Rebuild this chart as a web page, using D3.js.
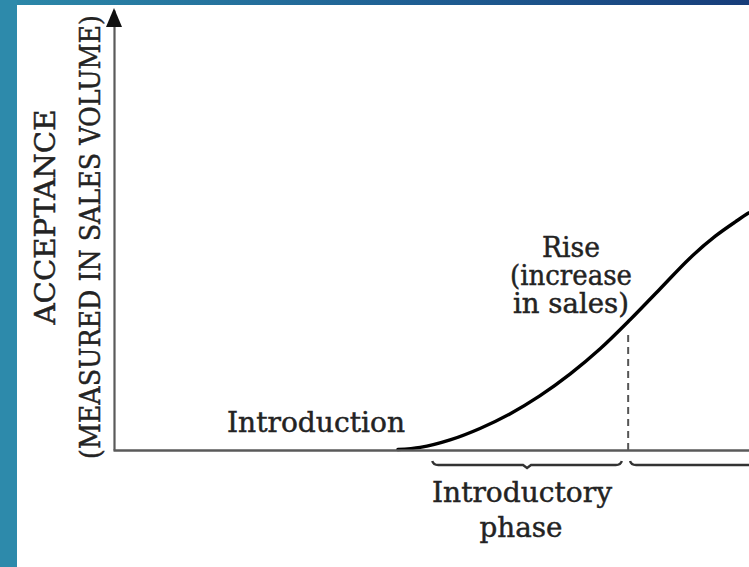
<!DOCTYPE html>
<html>
<head>
<meta charset="utf-8">
<script src="https://cdn.jsdelivr.net/npm/d3@7"></script>
<style>
body { margin:0; background:#fff; }
svg { display:block; }
text { font-family:"DejaVu Serif","Liberation Serif",serif; fill:#232323; stroke:#232323; stroke-width:0.45; }
</style>
</head>
<body>
<div id="chart"></div>
<script>
const width = 749
const height = 567

const margin = {
    top:10,
    bottom:117,
    left:113,
    right:0
}

// curve of acceptance over time (arbitrary units 0-100)
const timeValues = [44.8, 48.3, 53.0, 57.7, 62.4, 67.1, 71.9, 76.6, 81.3, 86.0, 90.7, 94.7, 97.8, 100, 101.7]
const acceptanceValues = [0.1, 0.6, 2.3, 4.9, 8.2, 12.3, 17.3, 23.0, 29.6, 36.6, 43.6, 48.6, 51.8, 53.9, 55.2]

// phases below the time axis
const phaseStarts = [50.2, 81.3]
const phaseEnds = [80.0, 130]
const phaseLabels = [["Introductory", "phase"], []]
const phaseBoundary = 81.0

// stage names on the curve
const stageLabels = [["Introduction"], ["Rise", "(increase", "in sales)"]]

const yTitle = ["ACCEPTANCE", "(MEASURED IN SALES VOLUME)"]

const svg = d3.select("div#chart").append("svg").attr("width",width).attr("height",height)

// slide frame
const defs = svg.append("defs")
const grad = defs.append("linearGradient").attr("id","topGrad")
grad.append("stop").attr("offset","0%").attr("stop-color","#2c89a9")
grad.append("stop").attr("offset","55%").attr("stop-color","#1f5f93")
grad.append("stop").attr("offset","100%").attr("stop-color","#173d7a")
svg.append("rect").attr("x",0).attr("y",0).attr("width",width).attr("height",5).attr("fill","url(#topGrad)")
svg.append("rect").attr("x",0).attr("y",0).attr("width",17).attr("height",height).attr("fill","#2d8aab")

const elementGroup = svg.append("g").attr("class","elementGroup")
const axisGroup = svg.append("g").attr("class","axisGroup")
const labelGroup = svg.append("g").attr("class","labelGroup")

const x = d3.scaleLinear().domain([0,100]).range([margin.left, width - margin.right])
const y = d3.scaleLinear().domain([0,100]).range([height - margin.bottom, margin.top])

const xAxis = d3.axisBottom(x).tickValues([]).tickSizeOuter(0)
const yAxis = d3.axisLeft(y).tickValues([]).tickSizeOuter(0)

const xAxisGroup = axisGroup.append("g").attr("transform",`translate(0,${y(0)})`).call(xAxis)
const yAxisGroup = axisGroup.append("g").attr("transform",`translate(${x(0) + 1},0)`).call(yAxis)
axisGroup.selectAll(".domain").attr("stroke","#5a5a5a").attr("stroke-width",2.6)
yAxisGroup.select(".domain").attr("stroke-width",2.2)

// arrow head of the y axis
axisGroup.append("path")
    .attr("d", `M${x(0)+1},${y(100)-2} L${x(0)+9},${y(100)+17} L${x(0)-7},${y(100)+17} Z`)
    .attr("fill","#111")

// boundary between phases
elementGroup.append("line")
    .attr("x1",x(phaseBoundary)).attr("x2",x(phaseBoundary))
    .attr("y1",y(0)).attr("y2",y(26.8))
    .attr("stroke","#555").attr("stroke-width",2).attr("stroke-dasharray","7,5")

// acceptance curve
const data = timeValues.map((t,i) => ({x:t, y:acceptanceValues[i]}))
elementGroup.append("path")
    .datum(data)
    .attr("d", d3.line().x(d => x(d.x)).y(d => y(d.y)).curve(d3.curveMonotoneX))
    .attr("fill","none").attr("stroke","#000").attr("stroke-width",3.4).attr("stroke-linecap","round")

// phase braces
const braceY = y(0) + 15
phaseStarts.forEach((s,i) => {
    const x0 = x(s), x1 = x(phaseEnds[i]), xm = (x0 + x1) / 2
    elementGroup.append("path")
        .attr("d", `M${x0},${braceY-4} Q${x0+1},${braceY} ${x0+6},${braceY} L${xm-4},${braceY} L${xm},${braceY+3} L${xm+4},${braceY} L${x1-6},${braceY} Q${x1-1},${braceY} ${x1},${braceY-4}`)
        .attr("fill","none").attr("stroke","#333").attr("stroke-width",2.4)
    phaseLabels[i].forEach((line,j) => {
        labelGroup.append("text")
            .attr("x", j == 0 ? 522 : 521).attr("y", 502 + j*35)
            .attr("text-anchor","middle").attr("font-size",27)
            .attr("textLength", j == 0 ? 180 : 83).attr("lengthAdjust","spacingAndGlyphs")
            .text(line)
    })
})

// stage names
labelGroup.append("text")
    .attr("x",227).attr("y",432).attr("font-size",27)
    .attr("textLength",178).attr("lengthAdjust","spacingAndGlyphs")
    .text(stageLabels[0][0])

const riseLengths = [58, 122, 116]
stageLabels[1].forEach((line,j) => {
    labelGroup.append("text")
        .attr("x",571).attr("y",257 + j*28)
        .attr("text-anchor","middle").attr("font-size",27)
        .attr("textLength",riseLengths[j]).attr("lengthAdjust","spacingAndGlyphs")
        .text(line)
})

// y axis title, rotated
const titleX = [55, 100]
const titleY = [217, 237]
const titleLengths = [215, 444]
yTitle.forEach((line,j) => {
    labelGroup.append("text")
        .attr("transform",`translate(${titleX[j]},${titleY[j]}) rotate(-90)`)
        .attr("text-anchor","middle").attr("font-size",27)
        .attr("textLength",titleLengths[j]).attr("lengthAdjust","spacingAndGlyphs")
        .text(line)
})
</script>
</body>
</html>
